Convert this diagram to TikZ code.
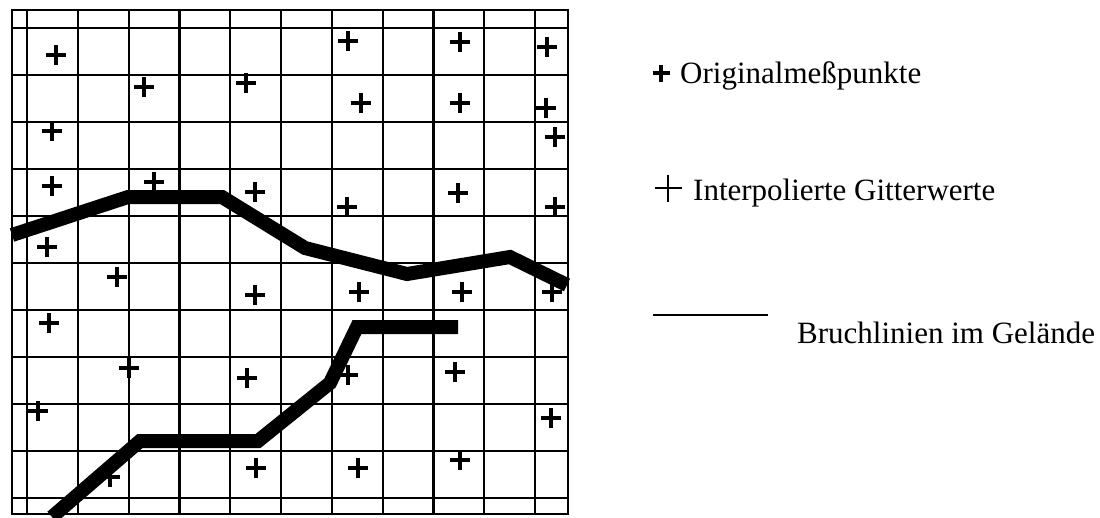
\documentclass[tikz,border=0pt]{standalone}
\usepackage{fontspec}
\setmainfont{Liberation Serif}
\usepackage{tikz}

\tikzset{
  gridline/.style={line width=2.2pt},
  breakline/.style={line width=14pt},
  gridplus/.style={line width=3.6pt},
  legendtext/.style={anchor=base west, inner sep=0pt, font=\fontsize{31}{36}\selectfont}
}

\begin{document}
\begin{tikzpicture}[x=1pt,y=-1pt]
  \useasboundingbox (0,0) rectangle (1100,517);

  % Grid
  \foreach \gx in {0,...,10}
    \draw[gridline] (27+50.8*\gx,10) -- (27+50.8*\gx,514);
  \foreach \gy in {0,...,10}
    \draw[gridline] (12,28+47*\gy) -- (568,28+47*\gy);
  \draw[gridline] (12,10) rectangle (568,514);

  % Points
  \foreach \px/\py in {56/55, 348/41, 460/42, 547/47,
      144/87, 246/83, 361/103, 460/103, 546/108,
      52/131, 555/137,
      52/186, 154/182, 255/192, 347/207, 458/193, 555/207,
      47/247, 117/277, 255/295, 359/292, 462/292, 552/292,
      49/323, 129/368, 247/378, 348/375, 455/372, 551/418,
      38/411, 110/477, 256/468, 358/468, 460/460}
    \draw[gridplus] (\px-10,\py) -- (\px+10,\py) (\px,\py-10) -- (\px,\py+10);

  % Break lines
  \draw[breakline] (12,235) -- (128,197) -- (222,197) -- (305,248)
    -- (407,274) -- (510,257) -- (567,285);
  \draw[breakline] (52,517) -- (140,441) -- (258,441) -- (330,383)
    -- (357,327) -- (458,327);

  % Legend
  \draw[line width=4.5pt] (652.5,73) -- (669.5,73) (661,64.5) -- (661,81.5);
  \node[legendtext] (orig) at (680,83) {Originalmeßpunkte};

  \draw[line width=2pt] (654.5,188) -- (681.5,188) (668,174.5) -- (668,201.5);
  \node[legendtext] (interp) at (693,200) {Interpolierte Gitterwerte};

  \draw[line width=2.4pt] (653,315) -- (768,315);
  \node[legendtext] (bruch) at (797,343) {Bruchlinien im Gelände};
\end{tikzpicture}
\end{document}
